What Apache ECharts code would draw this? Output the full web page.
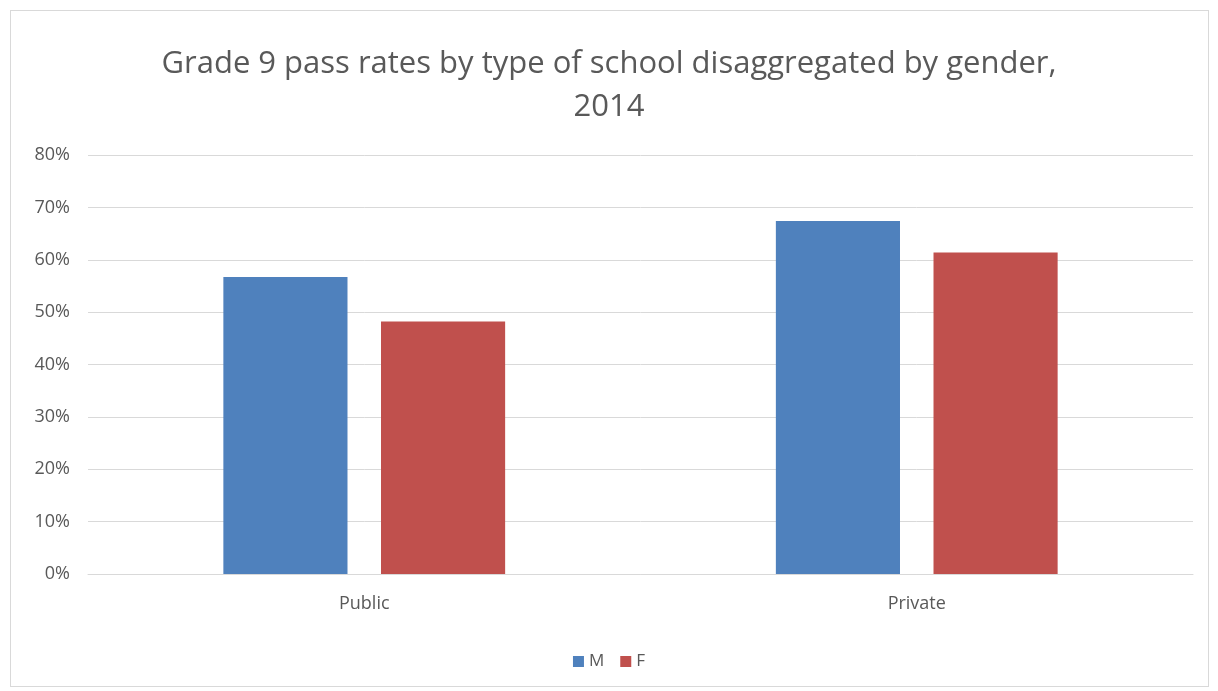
<!DOCTYPE html>
<html>
<head>
<meta charset="utf-8">
<script src="https://cdn.jsdelivr.net/npm/echarts@6/dist/echarts.min.js"></script>
<style>
html,body{margin:0;padding:0;background:#fff;}
#frame{position:absolute;left:10px;top:10px;width:1199px;height:677px;border:1px solid #d9d9d9;box-sizing:border-box;}
#chart{position:absolute;left:0;top:0;width:1218px;height:691px;}
</style>
</head>
<body>
<div id="frame"></div>
<div id="chart"></div>
<script>
const titleText = "Grade 9 pass rates by type of school disaggregated by gender,\n2014";
const categories = ["Public", "Private"];
const seriesNames = ["M", "F"];
const valuesM = [0.567, 0.674];
const valuesF = [0.482, 0.614];
const colors = ["#4f81bd", "#c0504d"];

const chart = echarts.init(document.getElementById('chart'));
const font = "'Open Sans', 'Noto Sans', sans-serif";
chart.setOption({
  animation: false,
  title: {
    text: titleText,
    left: 'center',
    top: 38,
    textStyle: {fontFamily: font, fontSize: 31, fontWeight: 'normal', color: '#595959', lineHeight: 43}
  },
  legend: {
    data: seriesNames,
    top: 648,
    left: 'center',
    icon: 'rect',
    itemWidth: 11,
    itemHeight: 11,
    itemGap: 16,
    textStyle: {fontFamily: font, fontSize: 17, color: '#595959'}
  },
  grid: {left: 88, right: 25, top: 155, bottom: 117},
  xAxis: {
    type: 'category',
    data: categories,
    axisTick: {show: false},
    axisLine: {lineStyle: {color: '#d9d9d9'}},
    axisLabel: {fontFamily: font, fontSize: 18, color: '#595959', margin: 21}
  },
  yAxis: {
    type: 'value',
    min: 0, max: 0.8, interval: 0.1,
    axisLine: {show: false},
    axisTick: {show: false},
    splitLine: {lineStyle: {color: '#d9d9d9'}},
    axisLabel: {fontFamily: font, fontSize: 18, color: '#595959', margin: 18,
      formatter: v => Math.round(v * 100) + '%'}
  },
  series: [
    {name: seriesNames[0], type: 'bar', data: valuesM, itemStyle: {color: colors[0]}, barGap: '27%', barCategoryGap: '49%'},
    {name: seriesNames[1], type: 'bar', data: valuesF, itemStyle: {color: colors[1]}, barGap: '27%', barCategoryGap: '49%'}
  ]
});
</script>
</body>
</html>
